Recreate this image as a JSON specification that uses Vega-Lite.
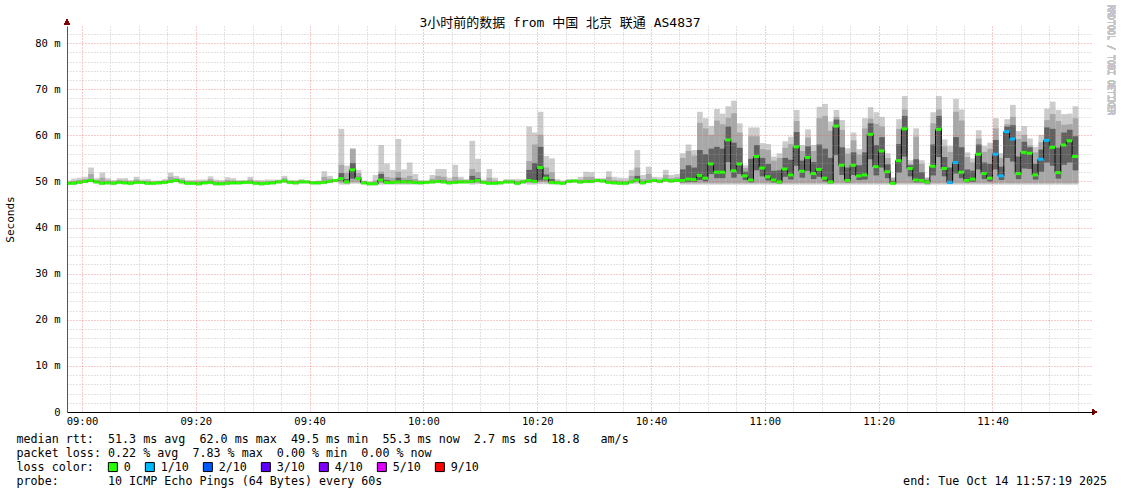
{
"$schema": "https://vega.github.io/schema/vega-lite/v6.json",
"width": 1026, "height": 386,
"autosize": {"type": "none"},
"padding": {"left": 67, "top": 26, "right": 28, "bottom": 82},
"background": "white",
"config": {"view": {"stroke": null}, "font": "DejaVu Sans Mono",
  "axis": {"labelFont": "DejaVu Sans Mono", "titleFont": "DejaVu Sans Mono", "labelColor": "#000", "titleColor": "#000", "titleFontWeight": "normal"}},
"title": {"text": "3小时前的数据 from 中国 北京 联通 AS4837", "anchor": "middle", "frame": "group", "dx": -20, "dy": 36, "offset": 1, "baseline": "alphabetic", "font": "DejaVu Sans Mono, Noto Sans CJK SC", "fontSize": 13, "fontWeight": "normal", "color": "#000"},
"data": {"values": [
{"t":"2025-10-14T08:57Z","md":49.6,"lo":49.2,"a":49.4,"c":49.5,"d":49.8,"b":49.9,"hi":50.2,"l":"0"},
{"t":"2025-10-14T08:58Z","md":49.6,"lo":49.2,"a":49.4,"c":49.5,"d":49.8,"b":50.1,"hi":50.6,"l":"0"},
{"t":"2025-10-14T08:59Z","md":49.8,"lo":49.4,"a":49.6,"c":49.7,"d":50.0,"b":50.3,"hi":50.8,"l":"0"},
{"t":"2025-10-14T09:00Z","md":50.0,"lo":49.6,"a":49.8,"c":49.9,"d":50.2,"b":50.5,"hi":51.0,"l":"0"},
{"t":"2025-10-14T09:01Z","md":50.2,"lo":49.8,"a":50.0,"c":50.1,"d":50.4,"b":51.6,"hi":53.0,"l":"0"},
{"t":"2025-10-14T09:02Z","md":49.9,"lo":49.5,"a":49.7,"c":49.8,"d":50.1,"b":50.3,"hi":50.7,"l":"0"},
{"t":"2025-10-14T09:03Z","md":49.6,"lo":49.2,"a":49.4,"c":49.5,"d":49.8,"b":50.8,"hi":51.9,"l":"0"},
{"t":"2025-10-14T09:04Z","md":49.7,"lo":49.3,"a":49.5,"c":49.6,"d":49.9,"b":50.2,"hi":50.7,"l":"0"},
{"t":"2025-10-14T09:05Z","md":49.6,"lo":49.2,"a":49.4,"c":49.5,"d":49.8,"b":50.0,"hi":50.3,"l":"0"},
{"t":"2025-10-14T09:06Z","md":49.8,"lo":49.4,"a":49.6,"c":49.7,"d":50.0,"b":50.3,"hi":50.7,"l":"0"},
{"t":"2025-10-14T09:07Z","md":49.7,"lo":49.3,"a":49.5,"c":49.6,"d":49.9,"b":50.2,"hi":50.7,"l":"0"},
{"t":"2025-10-14T09:08Z","md":49.6,"lo":49.2,"a":49.4,"c":49.5,"d":49.8,"b":50.0,"hi":50.3,"l":"0"},
{"t":"2025-10-14T09:09Z","md":49.8,"lo":49.4,"a":49.6,"c":49.7,"d":50.0,"b":50.4,"hi":51.0,"l":"0"},
{"t":"2025-10-14T09:10Z","md":49.8,"lo":49.4,"a":49.6,"c":49.7,"d":50.0,"b":50.1,"hi":50.4,"l":"0"},
{"t":"2025-10-14T09:11Z","md":49.6,"lo":49.2,"a":49.4,"c":49.5,"d":49.8,"b":50.1,"hi":50.5,"l":"0"},
{"t":"2025-10-14T09:12Z","md":49.6,"lo":49.2,"a":49.4,"c":49.5,"d":49.8,"b":49.9,"hi":50.2,"l":"0"},
{"t":"2025-10-14T09:13Z","md":49.7,"lo":49.3,"a":49.5,"c":49.6,"d":49.9,"b":50.0,"hi":50.2,"l":"0"},
{"t":"2025-10-14T09:14Z","md":49.8,"lo":49.4,"a":49.6,"c":49.7,"d":50.0,"b":50.2,"hi":50.5,"l":"0"},
{"t":"2025-10-14T09:15Z","md":50.0,"lo":49.6,"a":49.8,"c":49.9,"d":50.2,"b":51.0,"hi":51.9,"l":"0"},
{"t":"2025-10-14T09:16Z","md":50.2,"lo":49.8,"a":50.0,"c":50.1,"d":50.4,"b":50.7,"hi":51.2,"l":"0"},
{"t":"2025-10-14T09:17Z","md":49.9,"lo":49.5,"a":49.7,"c":49.8,"d":50.1,"b":50.4,"hi":50.8,"l":"0"},
{"t":"2025-10-14T09:18Z","md":49.6,"lo":49.2,"a":49.4,"c":49.5,"d":49.8,"b":50.0,"hi":50.3,"l":"0"},
{"t":"2025-10-14T09:19Z","md":49.6,"lo":49.2,"a":49.4,"c":49.5,"d":49.8,"b":50.0,"hi":50.3,"l":"0"},
{"t":"2025-10-14T09:20Z","md":49.5,"lo":49.1,"a":49.3,"c":49.4,"d":49.7,"b":50.0,"hi":50.4,"l":"0"},
{"t":"2025-10-14T09:21Z","md":49.7,"lo":49.3,"a":49.5,"c":49.6,"d":49.9,"b":50.1,"hi":50.4,"l":"0"},
{"t":"2025-10-14T09:22Z","md":49.8,"lo":49.4,"a":49.6,"c":49.7,"d":50.0,"b":50.5,"hi":51.1,"l":"0"},
{"t":"2025-10-14T09:23Z","md":49.5,"lo":49.1,"a":49.3,"c":49.4,"d":49.7,"b":50.0,"hi":50.4,"l":"0"},
{"t":"2025-10-14T09:24Z","md":49.5,"lo":49.1,"a":49.3,"c":49.4,"d":49.7,"b":49.9,"hi":50.3,"l":"0"},
{"t":"2025-10-14T09:25Z","md":49.6,"lo":49.2,"a":49.4,"c":49.5,"d":49.8,"b":50.3,"hi":50.9,"l":"0"},
{"t":"2025-10-14T09:26Z","md":49.7,"lo":49.3,"a":49.5,"c":49.6,"d":49.9,"b":50.2,"hi":50.7,"l":"0"},
{"t":"2025-10-14T09:27Z","md":49.7,"lo":49.3,"a":49.5,"c":49.6,"d":49.9,"b":50.0,"hi":50.3,"l":"0"},
{"t":"2025-10-14T09:28Z","md":49.8,"lo":49.4,"a":49.6,"c":49.7,"d":50.0,"b":50.1,"hi":50.3,"l":"0"},
{"t":"2025-10-14T09:29Z","md":49.8,"lo":49.4,"a":49.6,"c":49.7,"d":50.0,"b":50.4,"hi":51.0,"l":"0"},
{"t":"2025-10-14T09:30Z","md":49.6,"lo":49.2,"a":49.4,"c":49.5,"d":49.8,"b":50.0,"hi":50.3,"l":"0"},
{"t":"2025-10-14T09:31Z","md":49.5,"lo":49.1,"a":49.3,"c":49.4,"d":49.7,"b":49.9,"hi":50.3,"l":"0"},
{"t":"2025-10-14T09:32Z","md":49.6,"lo":49.2,"a":49.4,"c":49.5,"d":49.8,"b":50.0,"hi":50.4,"l":"0"},
{"t":"2025-10-14T09:33Z","md":49.7,"lo":49.3,"a":49.5,"c":49.6,"d":49.9,"b":50.1,"hi":50.4,"l":"0"},
{"t":"2025-10-14T09:34Z","md":49.9,"lo":49.5,"a":49.7,"c":49.8,"d":50.1,"b":50.2,"hi":50.4,"l":"0"},
{"t":"2025-10-14T09:35Z","md":50.1,"lo":49.7,"a":49.9,"c":50.0,"d":50.3,"b":50.7,"hi":51.2,"l":"0"},
{"t":"2025-10-14T09:36Z","md":49.8,"lo":49.4,"a":49.6,"c":49.7,"d":50.0,"b":50.1,"hi":50.3,"l":"0"},
{"t":"2025-10-14T09:37Z","md":49.7,"lo":49.3,"a":49.5,"c":49.6,"d":49.9,"b":50.0,"hi":50.3,"l":"0"},
{"t":"2025-10-14T09:38Z","md":49.9,"lo":49.5,"a":49.7,"c":49.8,"d":50.1,"b":50.2,"hi":50.5,"l":"0"},
{"t":"2025-10-14T09:39Z","md":49.9,"lo":49.5,"a":49.7,"c":49.8,"d":50.0,"b":50.1,"hi":50.2,"l":"0"},
{"t":"2025-10-14T09:40Z","md":49.7,"lo":49.3,"a":49.5,"c":49.6,"d":49.8,"b":49.9,"hi":50.0,"l":"0"},
{"t":"2025-10-14T09:41Z","md":49.7,"lo":49.3,"a":49.5,"c":49.6,"d":49.9,"b":50.0,"hi":50.2,"l":"0"},
{"t":"2025-10-14T09:42Z","md":49.8,"lo":49.4,"a":49.6,"c":49.7,"d":50.0,"b":51.0,"hi":52.2,"l":"0"},
{"t":"2025-10-14T09:43Z","md":50.0,"lo":49.6,"a":49.8,"c":49.9,"d":50.2,"b":50.6,"hi":51.2,"l":"0"},
{"t":"2025-10-14T09:44Z","md":50.2,"lo":49.8,"a":50.0,"c":50.1,"d":50.3,"b":50.4,"hi":50.5,"l":"0"},
{"t":"2025-10-14T09:45Z","md":50.6,"lo":49.3,"a":49.7,"c":50.2,"d":51.8,"b":53.6,"hi":61.4,"l":"0"},
{"t":"2025-10-14T09:46Z","md":49.9,"lo":49.3,"a":49.5,"c":49.7,"d":50.5,"b":51.8,"hi":53.4,"l":"0"},
{"t":"2025-10-14T09:47Z","md":52.5,"lo":49.5,"a":49.8,"c":50.6,"d":54.0,"b":57.0,"hi":57.2,"l":"0"},
{"t":"2025-10-14T09:48Z","md":50.6,"lo":49.5,"a":49.8,"c":50.3,"d":51.0,"b":51.8,"hi":52.5,"l":"0"},
{"t":"2025-10-14T09:49Z","md":49.7,"lo":49.3,"a":49.5,"c":49.6,"d":49.9,"b":50.0,"hi":50.2,"l":"0"},
{"t":"2025-10-14T09:50Z","md":49.5,"lo":49.1,"a":49.3,"c":49.4,"d":49.7,"b":49.8,"hi":50.0,"l":"0"},
{"t":"2025-10-14T09:51Z","md":49.5,"lo":49.1,"a":49.3,"c":49.4,"d":49.7,"b":50.2,"hi":51.4,"l":"0"},
{"t":"2025-10-14T09:52Z","md":50.3,"lo":49.3,"a":49.7,"c":50.0,"d":51.6,"b":52.1,"hi":57.9,"l":"0"},
{"t":"2025-10-14T09:53Z","md":49.8,"lo":49.3,"a":49.5,"c":49.6,"d":50.3,"b":51.0,"hi":53.9,"l":"0"},
{"t":"2025-10-14T09:54Z","md":49.8,"lo":49.3,"a":49.5,"c":49.6,"d":50.1,"b":50.8,"hi":52.5,"l":"0"},
{"t":"2025-10-14T09:55Z","md":49.9,"lo":49.3,"a":49.5,"c":49.7,"d":50.8,"b":52.1,"hi":59.2,"l":"0"},
{"t":"2025-10-14T09:56Z","md":49.9,"lo":49.3,"a":49.5,"c":49.7,"d":50.2,"b":50.8,"hi":52.6,"l":"0"},
{"t":"2025-10-14T09:57Z","md":49.9,"lo":49.3,"a":49.5,"c":49.7,"d":50.3,"b":51.2,"hi":54.1,"l":"0"},
{"t":"2025-10-14T09:58Z","md":49.8,"lo":49.3,"a":49.5,"c":49.6,"d":50.0,"b":50.5,"hi":51.6,"l":"0"},
{"t":"2025-10-14T09:59Z","md":49.7,"lo":49.3,"a":49.5,"c":49.6,"d":49.9,"b":50.0,"hi":50.3,"l":"0"},
{"t":"2025-10-14T10:00Z","md":49.8,"lo":49.4,"a":49.6,"c":49.7,"d":50.0,"b":50.0,"hi":50.2,"l":"0"},
{"t":"2025-10-14T10:01Z","md":49.9,"lo":49.5,"a":49.7,"c":49.8,"d":50.1,"b":50.6,"hi":51.4,"l":"0"},
{"t":"2025-10-14T10:02Z","md":50.0,"lo":49.6,"a":49.8,"c":49.9,"d":50.3,"b":51.2,"hi":52.7,"l":"0"},
{"t":"2025-10-14T10:03Z","md":49.9,"lo":49.5,"a":49.7,"c":49.8,"d":50.2,"b":51.0,"hi":52.7,"l":"0"},
{"t":"2025-10-14T10:04Z","md":49.7,"lo":49.3,"a":49.5,"c":49.6,"d":49.9,"b":50.2,"hi":50.8,"l":"0"},
{"t":"2025-10-14T10:05Z","md":49.8,"lo":49.4,"a":49.6,"c":49.7,"d":50.1,"b":51.0,"hi":53.6,"l":"0"},
{"t":"2025-10-14T10:06Z","md":49.9,"lo":49.5,"a":49.7,"c":49.8,"d":50.1,"b":50.4,"hi":51.0,"l":"0"},
{"t":"2025-10-14T10:07Z","md":49.9,"lo":49.5,"a":49.7,"c":49.8,"d":50.1,"b":50.2,"hi":50.5,"l":"0"},
{"t":"2025-10-14T10:08Z","md":50.0,"lo":49.3,"a":49.6,"c":49.8,"d":51.2,"b":52.7,"hi":58.8,"l":"0"},
{"t":"2025-10-14T10:09Z","md":50.2,"lo":49.4,"a":49.7,"c":50.0,"d":50.7,"b":52.0,"hi":54.9,"l":"0"},
{"t":"2025-10-14T10:10Z","md":49.8,"lo":49.4,"a":49.6,"c":49.7,"d":50.0,"b":50.1,"hi":50.4,"l":"0"},
{"t":"2025-10-14T10:11Z","md":49.6,"lo":49.2,"a":49.4,"c":49.5,"d":49.8,"b":50.8,"hi":52.7,"l":"0"},
{"t":"2025-10-14T10:12Z","md":49.6,"lo":49.2,"a":49.4,"c":49.5,"d":49.8,"b":50.2,"hi":50.8,"l":"0"},
{"t":"2025-10-14T10:13Z","md":49.7,"lo":49.3,"a":49.5,"c":49.6,"d":49.9,"b":49.9,"hi":50.0,"l":"0"},
{"t":"2025-10-14T10:14Z","md":49.9,"lo":49.5,"a":49.7,"c":49.8,"d":50.1,"b":50.2,"hi":50.5,"l":"0"},
{"t":"2025-10-14T10:15Z","md":49.9,"lo":49.5,"a":49.7,"c":49.8,"d":50.1,"b":50.2,"hi":50.5,"l":"0"},
{"t":"2025-10-14T10:16Z","md":49.6,"lo":49.2,"a":49.4,"c":49.5,"d":49.8,"b":50.1,"hi":50.5,"l":"0"},
{"t":"2025-10-14T10:17Z","md":49.9,"lo":49.5,"a":49.7,"c":49.8,"d":50.1,"b":50.2,"hi":50.5,"l":"0"},
{"t":"2025-10-14T10:18Z","md":50.2,"lo":49.3,"a":49.7,"c":50.0,"d":52.5,"b":54.4,"hi":61.9,"l":"0"},
{"t":"2025-10-14T10:19Z","md":50.0,"lo":49.3,"a":49.6,"c":49.9,"d":54.0,"b":58.0,"hi":60.6,"l":"0"},
{"t":"2025-10-14T10:20Z","md":53.0,"lo":49.4,"a":49.8,"c":50.2,"d":57.5,"b":60.1,"hi":65.1,"l":"0"},
{"t":"2025-10-14T10:21Z","md":50.7,"lo":49.4,"a":49.8,"c":50.2,"d":51.5,"b":53.0,"hi":55.5,"l":"0"},
{"t":"2025-10-14T10:22Z","md":49.8,"lo":49.3,"a":49.5,"c":49.6,"d":50.5,"b":52.0,"hi":55.0,"l":"0"},
{"t":"2025-10-14T10:23Z","md":49.7,"lo":49.3,"a":49.5,"c":49.6,"d":49.9,"b":50.1,"hi":50.5,"l":"0"},
{"t":"2025-10-14T10:24Z","md":49.6,"lo":49.2,"a":49.4,"c":49.5,"d":49.8,"b":49.9,"hi":50.2,"l":"0"},
{"t":"2025-10-14T10:25Z","md":50.0,"lo":49.6,"a":49.8,"c":49.9,"d":50.2,"b":50.2,"hi":50.5,"l":"0"},
{"t":"2025-10-14T10:26Z","md":50.1,"lo":49.7,"a":49.9,"c":50.0,"d":50.3,"b":50.3,"hi":50.5,"l":"0"},
{"t":"2025-10-14T10:27Z","md":49.9,"lo":49.5,"a":49.7,"c":49.8,"d":50.1,"b":50.4,"hi":51.0,"l":"0"},
{"t":"2025-10-14T10:28Z","md":50.0,"lo":49.6,"a":49.8,"c":49.9,"d":50.2,"b":51.0,"hi":52.1,"l":"0"},
{"t":"2025-10-14T10:29Z","md":50.0,"lo":49.6,"a":49.8,"c":49.9,"d":50.2,"b":51.0,"hi":52.0,"l":"0"},
{"t":"2025-10-14T10:30Z","md":50.2,"lo":49.8,"a":50.0,"c":50.1,"d":50.4,"b":50.4,"hi":50.7,"l":"0"},
{"t":"2025-10-14T10:31Z","md":50.1,"lo":49.7,"a":49.9,"c":50.0,"d":50.3,"b":50.4,"hi":50.7,"l":"0"},
{"t":"2025-10-14T10:32Z","md":49.8,"lo":49.4,"a":49.6,"c":49.7,"d":50.0,"b":51.0,"hi":52.2,"l":"0"},
{"t":"2025-10-14T10:33Z","md":49.7,"lo":49.3,"a":49.5,"c":49.6,"d":49.9,"b":50.3,"hi":51.0,"l":"0"},
{"t":"2025-10-14T10:34Z","md":49.6,"lo":49.2,"a":49.4,"c":49.5,"d":49.8,"b":50.2,"hi":50.8,"l":"0"},
{"t":"2025-10-14T10:35Z","md":49.6,"lo":49.2,"a":49.4,"c":49.5,"d":49.8,"b":50.1,"hi":50.7,"l":"0"},
{"t":"2025-10-14T10:36Z","md":49.9,"lo":49.5,"a":49.7,"c":49.8,"d":50.1,"b":51.2,"hi":52.5,"l":"0"},
{"t":"2025-10-14T10:37Z","md":50.3,"lo":49.5,"a":49.8,"c":50.1,"d":51.2,"b":53.0,"hi":56.8,"l":"0"},
{"t":"2025-10-14T10:38Z","md":49.7,"lo":49.3,"a":49.5,"c":49.6,"d":49.9,"b":50.5,"hi":51.4,"l":"0"},
{"t":"2025-10-14T10:39Z","md":50.0,"lo":49.6,"a":49.8,"c":49.9,"d":50.3,"b":51.6,"hi":53.2,"l":"0"},
{"t":"2025-10-14T10:40Z","md":50.2,"lo":49.8,"a":50.0,"c":50.1,"d":50.4,"b":50.6,"hi":51.0,"l":"0"},
{"t":"2025-10-14T10:41Z","md":50.0,"lo":49.6,"a":49.8,"c":49.9,"d":50.2,"b":50.4,"hi":50.9,"l":"0"},
{"t":"2025-10-14T10:42Z","md":50.3,"lo":49.9,"a":50.1,"c":50.2,"d":50.5,"b":51.4,"hi":52.5,"l":"0"},
{"t":"2025-10-14T10:43Z","md":50.1,"lo":49.7,"a":49.9,"c":50.0,"d":50.3,"b":50.7,"hi":51.4,"l":"0"},
{"t":"2025-10-14T10:44Z","md":50.2,"lo":49.8,"a":50.0,"c":50.1,"d":50.4,"b":50.9,"hi":51.6,"l":"0"},
{"t":"2025-10-14T10:45Z","md":50.2,"lo":49.3,"a":49.6,"c":49.8,"d":52.6,"b":55.1,"hi":56.1,"l":"0"},
{"t":"2025-10-14T10:46Z","md":50.5,"lo":49.3,"a":49.6,"c":49.9,"d":53.5,"b":56.6,"hi":58.0,"l":"0"},
{"t":"2025-10-14T10:47Z","md":50.4,"lo":49.3,"a":49.6,"c":49.9,"d":53.0,"b":55.6,"hi":56.8,"l":"0"},
{"t":"2025-10-14T10:48Z","md":51.3,"lo":49.3,"a":49.6,"c":50.3,"d":56.8,"b":62.7,"hi":65.1,"l":"0"},
{"t":"2025-10-14T10:49Z","md":50.7,"lo":49.3,"a":49.6,"c":50.0,"d":55.9,"b":61.5,"hi":63.7,"l":"0"},
{"t":"2025-10-14T10:50Z","md":53.8,"lo":49.3,"a":49.6,"c":51.6,"d":57.1,"b":60.1,"hi":62.0,"l":"0"},
{"t":"2025-10-14T10:51Z","md":52.0,"lo":49.3,"a":49.6,"c":50.7,"d":57.5,"b":63.2,"hi":65.7,"l":"0"},
{"t":"2025-10-14T10:52Z","md":52.0,"lo":49.3,"a":49.6,"c":50.7,"d":57.1,"b":62.4,"hi":64.7,"l":"0"},
{"t":"2025-10-14T10:53Z","md":59.0,"lo":49.3,"a":49.6,"c":54.2,"d":61.9,"b":63.8,"hi":66.3,"l":"0"},
{"t":"2025-10-14T10:54Z","md":52.3,"lo":49.3,"a":49.6,"c":50.8,"d":58.4,"b":64.8,"hi":67.5,"l":"0"},
{"t":"2025-10-14T10:55Z","md":53.8,"lo":49.3,"a":49.6,"c":51.6,"d":57.3,"b":60.6,"hi":62.6,"l":"0"},
{"t":"2025-10-14T10:56Z","md":51.2,"lo":49.3,"a":49.6,"c":50.3,"d":52.1,"b":52.9,"hi":53.5,"l":"0"},
{"t":"2025-10-14T10:57Z","md":50.3,"lo":49.3,"a":49.6,"c":49.8,"d":54.9,"b":59.8,"hi":61.7,"l":"0"},
{"t":"2025-10-14T10:58Z","md":55.4,"lo":49.3,"a":49.6,"c":52.4,"d":57.9,"b":59.8,"hi":61.7,"l":"0"},
{"t":"2025-10-14T10:59Z","md":52.9,"lo":49.3,"a":49.6,"c":51.1,"d":55.1,"b":57.0,"hi":58.3,"l":"0"},
{"t":"2025-10-14T11:00Z","md":51.0,"lo":49.3,"a":49.6,"c":50.2,"d":53.8,"b":56.8,"hi":58.1,"l":"0"},
{"t":"2025-10-14T11:01Z","md":50.3,"lo":49.3,"a":49.6,"c":49.8,"d":52.3,"b":54.5,"hi":55.4,"l":"0"},
{"t":"2025-10-14T11:02Z","md":49.9,"lo":49.3,"a":49.5,"c":49.6,"d":52.4,"b":55.1,"hi":56.1,"l":"0"},
{"t":"2025-10-14T11:03Z","md":52.7,"lo":49.3,"a":49.6,"c":51.0,"d":55.1,"b":57.3,"hi":58.7,"l":"0"},
{"t":"2025-10-14T11:04Z","md":51.4,"lo":49.3,"a":49.6,"c":50.4,"d":54.7,"b":58.1,"hi":59.7,"l":"0"},
{"t":"2025-10-14T11:05Z","md":57.5,"lo":49.3,"a":49.6,"c":53.4,"d":60.7,"b":63.1,"hi":65.5,"l":"0"},
{"t":"2025-10-14T11:06Z","md":52.2,"lo":49.3,"a":49.6,"c":50.8,"d":54.5,"b":56.6,"hi":57.9,"l":"0"},
{"t":"2025-10-14T11:07Z","md":55.2,"lo":49.3,"a":49.6,"c":52.3,"d":57.6,"b":59.5,"hi":61.3,"l":"0"},
{"t":"2025-10-14T11:08Z","md":51.7,"lo":49.3,"a":49.6,"c":50.5,"d":54.2,"b":56.6,"hi":57.9,"l":"0"},
{"t":"2025-10-14T11:09Z","md":52.6,"lo":49.3,"a":49.6,"c":51.0,"d":58.0,"b":63.7,"hi":66.2,"l":"0"},
{"t":"2025-10-14T11:10Z","md":50.7,"lo":49.3,"a":49.6,"c":50.0,"d":57.1,"b":64.2,"hi":66.8,"l":"0"},
{"t":"2025-10-14T11:11Z","md":49.9,"lo":49.3,"a":49.5,"c":49.6,"d":55.1,"b":61.0,"hi":63.0,"l":"0"},
{"t":"2025-10-14T11:12Z","md":62.0,"lo":49.3,"a":49.6,"c":55.7,"d":63.4,"b":64.0,"hi":65.5,"l":"0"},
{"t":"2025-10-14T11:13Z","md":53.5,"lo":49.3,"a":49.6,"c":51.4,"d":57.4,"b":61.2,"hi":63.3,"l":"0"},
{"t":"2025-10-14T11:14Z","md":50.2,"lo":49.3,"a":49.6,"c":49.8,"d":53.0,"b":56.0,"hi":57.2,"l":"0"},
{"t":"2025-10-14T11:15Z","md":53.5,"lo":49.3,"a":49.6,"c":51.4,"d":56.3,"b":58.9,"hi":60.6,"l":"0"},
{"t":"2025-10-14T11:16Z","md":51.2,"lo":49.3,"a":49.6,"c":50.3,"d":53.5,"b":55.8,"hi":57.0,"l":"0"},
{"t":"2025-10-14T11:17Z","md":51.4,"lo":49.3,"a":49.6,"c":50.4,"d":56.3,"b":61.5,"hi":63.7,"l":"0"},
{"t":"2025-10-14T11:18Z","md":60.2,"lo":49.3,"a":49.6,"c":54.8,"d":62.6,"b":63.6,"hi":66.1,"l":"0"},
{"t":"2025-10-14T11:19Z","md":53.2,"lo":49.3,"a":49.6,"c":51.3,"d":57.9,"b":62.5,"hi":65.0,"l":"0"},
{"t":"2025-10-14T11:20Z","md":56.6,"lo":49.3,"a":49.6,"c":53.0,"d":59.6,"b":61.9,"hi":64.0,"l":"0"},
{"t":"2025-10-14T11:21Z","md":52.1,"lo":49.3,"a":49.6,"c":50.7,"d":53.7,"b":55.1,"hi":56.1,"l":"0"},
{"t":"2025-10-14T11:22Z","md":49.6,"lo":49.2,"a":49.4,"c":49.5,"d":50.1,"b":50.7,"hi":50.9,"l":"0"},
{"t":"2025-10-14T11:23Z","md":54.5,"lo":49.3,"a":49.6,"c":51.9,"d":58.1,"b":61.4,"hi":63.5,"l":"0"},
{"t":"2025-10-14T11:24Z","md":61.4,"lo":49.3,"a":49.6,"c":55.4,"d":64.2,"b":65.6,"hi":68.5,"l":"0"},
{"t":"2025-10-14T11:25Z","md":52.8,"lo":49.3,"a":49.6,"c":51.1,"d":53.5,"b":53.8,"hi":54.6,"l":"0"},
{"t":"2025-10-14T11:26Z","md":50.3,"lo":49.3,"a":49.6,"c":49.8,"d":54.8,"b":59.7,"hi":61.5,"l":"0"},
{"t":"2025-10-14T11:27Z","md":50.2,"lo":49.3,"a":49.6,"c":49.8,"d":52.0,"b":53.8,"hi":54.6,"l":"0"},
{"t":"2025-10-14T11:28Z","md":49.9,"lo":49.2,"a":49.4,"c":49.6,"d":50.3,"b":50.7,"hi":50.9,"l":"0"},
{"t":"2025-10-14T11:29Z","md":53.3,"lo":49.3,"a":49.6,"c":51.3,"d":58.0,"b":62.6,"hi":65.0,"l":"0"},
{"t":"2025-10-14T11:30Z","md":61.3,"lo":49.3,"a":49.6,"c":55.3,"d":64.2,"b":65.6,"hi":68.5,"l":"0"},
{"t":"2025-10-14T11:31Z","md":52.8,"lo":49.3,"a":49.6,"c":51.1,"d":55.3,"b":57.6,"hi":59.1,"l":"0"},
{"t":"2025-10-14T11:32Z","md":49.8,"lo":49.3,"a":49.5,"c":49.6,"d":53.0,"b":56.4,"hi":57.7,"l":"1/10"},
{"t":"2025-10-14T11:33Z","md":54.1,"lo":49.3,"a":49.6,"c":51.7,"d":59.6,"b":65.1,"hi":67.9,"l":"1/10"},
{"t":"2025-10-14T11:34Z","md":52.0,"lo":49.3,"a":49.6,"c":50.7,"d":57.4,"b":63.2,"hi":65.6,"l":"0"},
{"t":"2025-10-14T11:35Z","md":50.2,"lo":49.3,"a":49.6,"c":49.8,"d":52.6,"b":55.3,"hi":56.3,"l":"0"},
{"t":"2025-10-14T11:36Z","md":50.5,"lo":49.3,"a":49.6,"c":49.9,"d":52.3,"b":54.1,"hi":55.0,"l":"0"},
{"t":"2025-10-14T11:37Z","md":55.9,"lo":49.3,"a":49.6,"c":52.6,"d":58.0,"b":59.3,"hi":61.1,"l":"0"},
{"t":"2025-10-14T11:38Z","md":51.7,"lo":49.3,"a":49.6,"c":50.5,"d":54.1,"b":56.4,"hi":57.7,"l":"0"},
{"t":"2025-10-14T11:39Z","md":50.7,"lo":49.3,"a":49.6,"c":50.0,"d":53.8,"b":57.1,"hi":58.4,"l":"0"},
{"t":"2025-10-14T11:40Z","md":55.9,"lo":49.3,"a":49.6,"c":52.6,"d":59.0,"b":61.5,"hi":63.7,"l":"1/10"},
{"t":"2025-10-14T11:41Z","md":51.2,"lo":49.3,"a":49.6,"c":50.3,"d":53.2,"b":55.1,"hi":56.1,"l":"1/10"},
{"t":"2025-10-14T11:42Z","md":60.8,"lo":49.3,"a":49.6,"c":55.1,"d":61.9,"b":62.4,"hi":63.5,"l":"1/10"},
{"t":"2025-10-14T11:43Z","md":59.2,"lo":49.3,"a":49.6,"c":54.3,"d":62.2,"b":64.0,"hi":66.6,"l":"1/10"},
{"t":"2025-10-14T11:44Z","md":51.7,"lo":49.3,"a":49.6,"c":50.5,"d":55.4,"b":59.2,"hi":60.9,"l":"0"},
{"t":"2025-10-14T11:45Z","md":56.3,"lo":49.3,"a":49.6,"c":52.8,"d":58.6,"b":60.1,"hi":62.0,"l":"0"},
{"t":"2025-10-14T11:46Z","md":56.1,"lo":49.3,"a":49.6,"c":52.7,"d":57.4,"b":57.8,"hi":59.3,"l":"0"},
{"t":"2025-10-14T11:47Z","md":51.4,"lo":49.3,"a":49.6,"c":50.4,"d":53.8,"b":56.3,"hi":57.5,"l":"0"},
{"t":"2025-10-14T11:48Z","md":54.8,"lo":49.3,"a":49.6,"c":52.1,"d":56.9,"b":58.5,"hi":60.1,"l":"1/10"},
{"t":"2025-10-14T11:49Z","md":58.9,"lo":49.3,"a":49.6,"c":54.1,"d":61.7,"b":63.3,"hi":65.8,"l":"1/10"},
{"t":"2025-10-14T11:50Z","md":57.4,"lo":49.3,"a":49.6,"c":53.4,"d":61.4,"b":64.6,"hi":67.3,"l":"0"},
{"t":"2025-10-14T11:51Z","md":51.9,"lo":49.3,"a":49.6,"c":50.6,"d":57.3,"b":63.1,"hi":65.5,"l":"0"},
{"t":"2025-10-14T11:52Z","md":57.9,"lo":49.3,"a":49.6,"c":53.6,"d":60.6,"b":62.3,"hi":64.6,"l":"0"},
{"t":"2025-10-14T11:53Z","md":58.8,"lo":49.3,"a":49.6,"c":54.1,"d":61.2,"b":62.4,"hi":64.7,"l":"0"},
{"t":"2025-10-14T11:54Z","md":55.4,"lo":49.3,"a":49.6,"c":52.4,"d":59.8,"b":63.7,"hi":66.3,"l":"0"}
]},
"layer": [
{
 "mark": {"type": "bar", "color": "#cccccc", "clip": true, "binSpacing": 0},
 "encoding": {
  "x": {"field": "t", "type": "temporal", "timeUnit": "utcyearmonthdatehoursminutes",
   "scale": {"domain": [1760432242000, 1760443060000]},
   "axis": {"orient": "bottom",
    "values": [1760432400000,1760432700000,1760433000000,1760433300000,1760433600000,1760433900000,1760434200000,1760434500000,1760434800000,1760435100000,1760435400000,1760435700000,1760436000000,1760436300000,1760436600000,1760436900000,1760437200000,1760437500000,1760437800000,1760438100000,1760438400000,1760438700000,1760439000000,1760439300000,1760439600000,1760439900000,1760440200000,1760440500000,1760440800000,1760441100000,1760441400000,1760441700000,1760442000000,1760442300000,1760442600000,1760442900000],
    "tickCount": 500,
    "grid": true,
    "gridColor": {"condition": {"test": "utcminutes(datum.value) % 20 == 0", "value": "#de5050"}, "value": "#a0a0a0"},
    "gridOpacity": 0.6, "gridDash": [1, 2],
    "labelExpr": "utcminutes(datum.value) % 20 == 0 ? utcFormat(datum.value, '%H:%M') : ''",
    "labelFontSize": 10.5, "labelPadding": 4, "tickSize": 0, "ticks": false, "labelFlush": false, "labelOverlap": false,
    "domain": true, "domainColor": "#000", "domainWidth": 1, "zindex": 1,
    "title": ["median\u00a0rtt:\u00a0\u00a051.3\u00a0ms\u00a0avg\u00a0\u00a062.0\u00a0ms\u00a0max\u00a0\u00a049.5\u00a0ms\u00a0min\u00a0\u00a055.3\u00a0ms\u00a0now\u00a0\u00a02.7\u00a0ms\u00a0sd\u00a0\u00a018.8\u00a0\u00a0\u00a0am/s", "packet\u00a0loss:\u00a00.22\u00a0%\u00a0avg\u00a0\u00a07.83\u00a0%\u00a0max\u00a0\u00a00.00\u00a0%\u00a0min\u00a0\u00a00.00\u00a0%\u00a0now", "loss\u00a0color:", "probe:\u00a0\u00a0\u00a0\u00a0\u00a0\u00a0\u00a010\u00a0ICMP\u00a0Echo\u00a0Pings\u00a0(64\u00a0Bytes)\u00a0every\u00a060s\u00a0\u00a0\u00a0\u00a0\u00a0\u00a0\u00a0\u00a0\u00a0\u00a0\u00a0\u00a0\u00a0\u00a0\u00a0\u00a0\u00a0\u00a0\u00a0\u00a0\u00a0\u00a0\u00a0\u00a0\u00a0\u00a0\u00a0\u00a0\u00a0\u00a0\u00a0\u00a0\u00a0\u00a0\u00a0\u00a0\u00a0\u00a0\u00a0\u00a0\u00a0\u00a0\u00a0\u00a0\u00a0\u00a0\u00a0\u00a0\u00a0\u00a0\u00a0\u00a0\u00a0\u00a0\u00a0\u00a0\u00a0\u00a0\u00a0\u00a0\u00a0\u00a0\u00a0\u00a0\u00a0\u00a0\u00a0\u00a0\u00a0\u00a0\u00a0\u00a0\u00a0\u00a0end:\u00a0Tue\u00a0Oct\u00a014\u00a011:57:19\u00a02025"],
    "titleX": -51, "titleY": 30.5, "titleAlign": "left", "titleAnchor": "start", "titleBaseline": "alphabetic", "titleFontSize": 11.7, "titleLineHeight": 14}},
  "y": {"field": "lo", "type": "quantitative", "scale": {"domain": [0, 83.7], "nice": false, "zero": true},
   "axis": {"orient": "left", "values": [0,2,4,6,8,10,12,14,16,18,20,22,24,26,28,30,32,34,36,38,40,42,44,46,48,50,52,54,56,58,60,62,64,66,68,70,72,74,76,78,80,82],
    "tickCount": 500,
    "grid": true,
    "gridColor": {"condition": {"test": "datum.value % 10 == 0", "value": "#de5050"}, "value": "#a0a0a0"},
    "gridOpacity": 0.6, "gridDash": [1, 2],
    "labelExpr": "datum.value % 10 != 0 ? '' : (datum.value == 0 ? '0' : datum.value + ' m')",
    "labelFontSize": 10.5, "labelPadding": 7, "tickSize": 0, "ticks": false, "labelOverlap": false,
    "domain": true, "domainColor": "#555", "zindex": 1,
    "title": "Seconds", "titleX": -57, "titleY": 193, "titleAngle": -90, "titleAlign": "center", "titleBaseline": "middle", "titleFontSize": 11}},
  "y2": {"field": "hi"}
 }
},
{
 "mark": {"type": "bar", "color": "#a8a8a8", "clip": true, "binSpacing": 0},
 "encoding": {
  "x": {"field": "t", "type": "temporal", "timeUnit": "utcyearmonthdatehoursminutes"},
  "y": {"field": "a", "type": "quantitative"},
  "y2": {"field": "b"}
 }
},
{
 "mark": {"type": "bar", "color": "#616161", "clip": true, "binSpacing": 0},
 "encoding": {
  "x": {"field": "t", "type": "temporal", "timeUnit": "utcyearmonthdatehoursminutes"},
  "y": {"field": "c", "type": "quantitative"},
  "y2": {"field": "d"}
 }
},
{
 "mark": {"type": "line", "color": "#000", "strokeWidth": 1, "interpolate": "step-after", "clip": true},
 "encoding": {
  "x": {"field": "t", "type": "temporal", "timeUnit": "utcyearmonthdatehoursminutes", "bandPosition": 0},
  "y": {"field": "md", "type": "quantitative"}
 }
},
{
 "mark": {"type": "tick", "orient": "horizontal", "thickness": 3, "size": 5.7, "opacity": 1, "clip": true},
 "encoding": {
  "x": {"field": "t", "type": "temporal", "timeUnit": "utcyearmonthdatehoursminutes", "bandPosition": 0.5},
  "y": {"field": "md", "type": "quantitative"},
  "color": {"field": "l", "type": "nominal",
   "scale": {"domain": ["0", "1/10", "2/10", "3/10", "4/10", "5/10", "9/10"], "range": ["#26ff00", "#00b8ff", "#0059ff", "#5e00ff", "#7e00ff", "#dd00ff", "#ff0000"]},
   "legend": {"orient": "none", "legendX": 40, "legendY": 435, "direction": "horizontal", "title": null, "symbolType": "square", "symbolSize": 81, "symbolStrokeColor": "#000", "symbolStrokeWidth": 1, "symbolOpacity": 1, "labelFont": "DejaVu Sans Mono", "labelFontSize": 11.7, "labelColor": "#000", "labelOffset": 5, "columnPadding": 12, "padding": 0}}
 }
},
{
 "mark": {"type": "text", "text": "RRDTOOL / TOBI OETIKER", "angle": 90, "align": "left", "baseline": "middle", "font": "DejaVu Sans Mono", "fontSize": 8.3, "color": "#c4c4c4"},
 "encoding": {
  "x": {"datum": 1760443239000, "type": "temporal"},
  "y": {"datum": 88.25, "type": "quantitative"}
 }
},
{
 "mark": {"type": "point", "shape": "triangle-right", "filled": true, "color": "#800000", "size": 30, "opacity": 1},
 "encoding": {
  "x": {"datum": 1760443075000, "type": "temporal"},
  "y": {"datum": 0, "type": "quantitative"}
 }
},
{
 "mark": {"type": "point", "shape": "triangle-up", "filled": true, "color": "#800000", "size": 30, "opacity": 1},
 "encoding": {
  "x": {"datum": 1760432242000, "type": "temporal"},
  "y": {"datum": 84.6, "type": "quantitative"}
 }
}
]
}
